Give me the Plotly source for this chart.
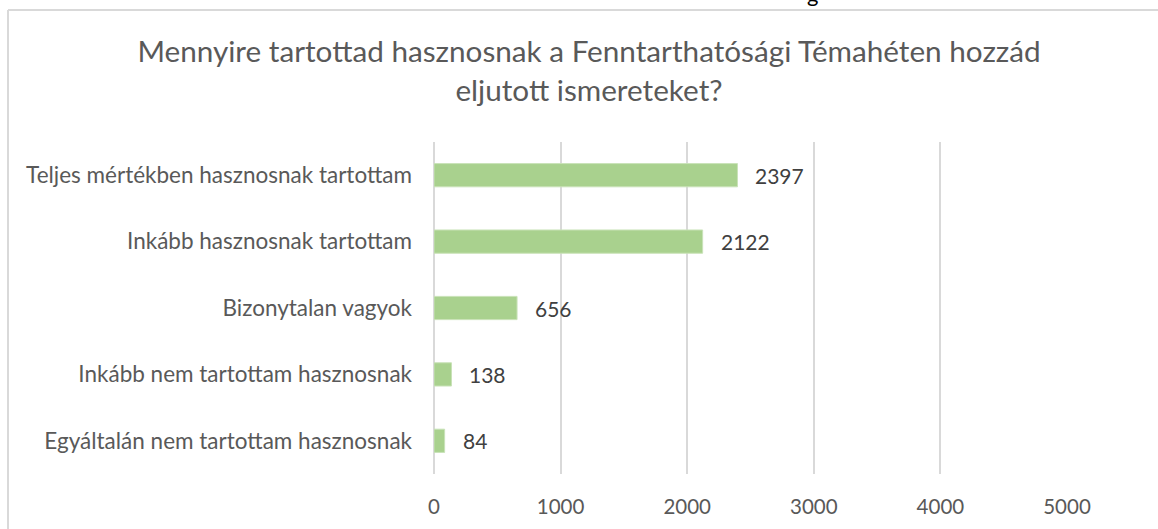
import plotly.graph_objects as go

categories = [
    "Teljes mértékben hasznosnak tartottam",
    "Inkább hasznosnak tartottam",
    "Bizonytalan vagyok",
    "Inkább nem tartottam hasznosnak",
    "Egyáltalán nem tartottam hasznosnak",
]
values = [2397, 2122, 656, 138, 84]
x_ticks = [0, 1000, 2000, 3000, 4000, 5000]

title_text = "Mennyire tartottad hasznosnak a Fenntarthatósági Témahéten hozzád<br>eljutott ismereteket?"

TEXT = "#595959"
LABEL = "#404040"
GRID = "#D9D9D9"
BAR = "#A9D18E"
FONT = "Lato, sans-serif"

W, H = 1158, 529
L, R, T, B = 434, 91, 142, 55
PW, PH = W - L - R, H - T - B


def px_x(px):
    return (px - L) / PW


def px_y(py):
    return (H - B - py) / PH


fig = go.Figure()
fig.add_trace(go.Bar(
    x=values, y=categories, orientation="h",
    marker=dict(color=BAR, line=dict(color="#C9E2B8", width=1)),
    width=0.35, hoverinfo="x+y",
))

for v, c in zip(values, categories):
    fig.add_annotation(x=v, y=c, text=str(v), showarrow=False,
                       xanchor="left", yanchor="middle", xshift=16,
                       font=dict(family=FONT, size=21, color=LABEL))

fig.update_layout(
    width=W, height=H,
    margin=dict(l=L, r=R, t=T, b=B),
    paper_bgcolor="white", plot_bgcolor="white",
    showlegend=False,
    title=dict(text=title_text, x=589 / W, xanchor="center", xref="container",
               y=1 - 62 / H, yanchor="middle", yref="container",
               font=dict(family=FONT, size=29.7, color=TEXT)),
    xaxis=dict(range=[0, 5000], tickvals=x_ticks, showgrid=True, gridcolor=GRID,
               gridwidth=2, zeroline=True, zerolinecolor=GRID, zerolinewidth=2,
               showline=False, ticks="", ticklabelstandoff=18,
               tickfont=dict(family=FONT, size=20.5, color=TEXT), fixedrange=True),
    yaxis=dict(categoryorder="array", categoryarray=categories[::-1],
               showgrid=False, zeroline=False, showline=False, ticks="",
               ticklabelstandoff=21,
               tickfont=dict(family=FONT, size=22.5, color=TEXT), fixedrange=True),
    shapes=[
        dict(type="line", xref="paper", yref="paper", x0=px_x(8), x1=px_x(8),
             y0=px_y(10), y1=px_y(H + 2), line=dict(color=GRID, width=2)),
        dict(type="line", xref="paper", yref="paper", x0=px_x(8), x1=px_x(W + 2),
             y0=px_y(10), y1=px_y(10), line=dict(color=GRID, width=2)),
    ],
)
fig.add_annotation(x=px_x(812), y=px_y(-7), xref="paper", yref="paper", text="g",
                   showarrow=False, xanchor="center", yanchor="middle",
                   font=dict(family=FONT, size=22, color="#000000"))

fig.write_html(
    "out.html",
    config={"displayModeBar": False},
    post_script="document.body.style.margin='0';document.body.style.overflow='hidden';",
)
